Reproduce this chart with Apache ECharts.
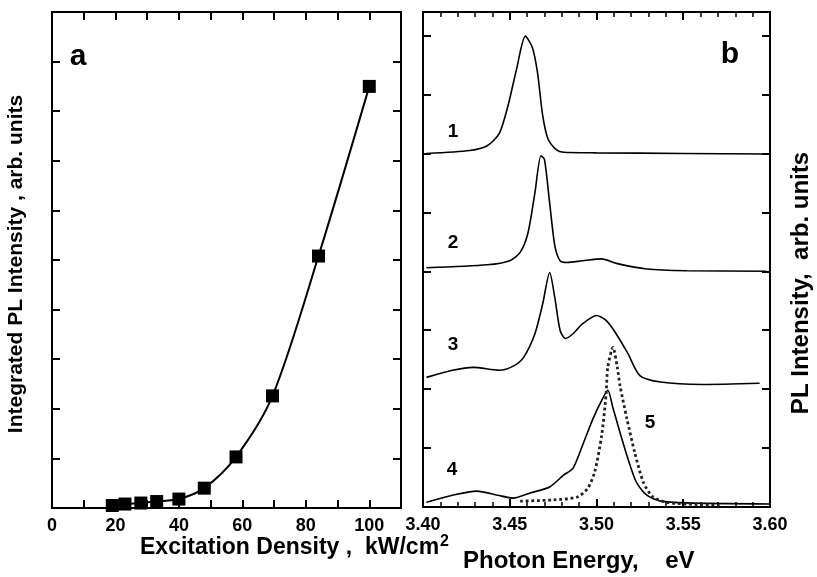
<!DOCTYPE html>
<html>
<head>
<meta charset="UTF-8">
<title>PL</title>
<script src="https://cdn.jsdelivr.net/npm/echarts@6/dist/echarts.min.js"></script>
<style>
  body { margin: 0; background: #fff; }
  #chart { width: 817px; height: 577px; }
</style>
</head>
<body>
<div id="chart"></div>
<script>
// panel a: integrated PL vs excitation density
var densX = [19, 23, 28, 33, 40, 48, 58, 69.5, 84, 100];
var densY = [0.05, 0.08, 0.1, 0.13, 0.18, 0.4, 1.03, 2.26, 5.08, 8.5];

// panel b: spectra (photon energy, eV / shifted intensity)
var e1 = [3.402, 3.427, 3.437, 3.444, 3.449, 3.454, 3.459, 3.463, 3.466, 3.469, 3.472, 3.477, 3.481, 3.50, 3.55, 3.60];
var p1 = [6.0, 6.05, 6.13, 6.34, 6.81, 7.44, 7.99, 7.8, 7.37, 6.64, 6.25, 6.06, 6.02, 6.01, 6.0, 5.99];

var e2 = [3.402, 3.437, 3.450, 3.456, 3.4605, 3.4645, 3.468, 3.470, 3.473, 3.476, 3.479, 3.483, 3.492, 3.503, 3.512, 3.529, 3.552, 3.598];
var p2 = [4.06, 4.11, 4.18, 4.32, 4.65, 5.33, 5.96, 5.9, 5.16, 4.43, 4.18, 4.15, 4.18, 4.21, 4.13, 4.04, 4.01, 4.0];

var e3 = [3.402, 3.417, 3.429, 3.444, 3.452, 3.458, 3.4645, 3.469, 3.473, 3.476, 3.479, 3.482, 3.4865, 3.492, 3.500, 3.505, 3.510, 3.518, 3.525, 3.537, 3.561, 3.594];
var p3 = [2.2, 2.32, 2.37, 2.32, 2.39, 2.54, 2.94, 3.45, 3.98, 3.55, 3.0, 2.86, 2.94, 3.11, 3.25, 3.18, 3.0, 2.61, 2.23, 2.12, 2.08, 2.1];

var e4 = [3.402, 3.417, 3.431, 3.443, 3.452, 3.462, 3.473, 3.481, 3.4865, 3.492, 3.498, 3.503, 3.5065, 3.5095, 3.5135, 3.518, 3.523, 3.529, 3.537, 3.552, 3.60];
var p4 = [0.08, 0.2, 0.27, 0.2, 0.15, 0.24, 0.34, 0.54, 0.66, 1.05, 1.5, 1.81, 1.98, 1.68, 1.27, 0.83, 0.42, 0.2, 0.1, 0.07, 0.05];

var e5 = [3.456, 3.475, 3.489, 3.495, 3.499, 3.503, 3.5055, 3.5065, 3.5095, 3.512, 3.5135, 3.5175, 3.522, 3.527, 3.5325, 3.5405, 3.552, 3.571];
var p5 = [0.1, 0.12, 0.17, 0.32, 0.6, 1.22, 1.9, 2.37, 2.71, 2.37, 2.07, 1.5, 0.93, 0.42, 0.17, 0.08, 0.05, 0.03];

function pairs(xs, ys) {
  return xs.map(function (x, i) { return [x, ys[i]]; });
}

var FONT = 'Liberation Sans';
var line = { color: '#000', width: 2 };

function xAx(grid, pos, min, max, step, fmt, minor) {
  return {
    gridIndex: grid, type: 'value', position: pos, min: min, max: max, interval: step,
    axisLine: { onZero: false, lineStyle: line },
    axisTick: { inside: true, length: 8, lineStyle: line },
    minorTick: { show: !!minor, splitNumber: minor || 5, length: 5, lineStyle: { color: '#000', width: 1.5 } },
    axisLabel: fmt ? { formatter: fmt, color: '#000', fontSize: 18, fontWeight: 'bold', fontFamily: FONT, margin: 9 } : { show: false },
    splitLine: { show: false }
  };
}
function yAx(grid, pos, max) {
  return {
    gridIndex: grid, type: 'value', position: pos, min: 0, max: max, interval: 1,
    axisLine: { onZero: false, lineStyle: line },
    axisTick: { inside: true, length: 8, lineStyle: line },
    axisLabel: { show: false },
    splitLine: { show: false }
  };
}
function txt(x, y, s, size, rot) {
  return {
    type: 'text', x: x, y: y, rotation: rot || 0,
    style: { text: s, font: 'bold ' + size + 'px "Liberation Sans"', fill: '#000', textAlign: 'center', textVerticalAlign: 'middle' }
  };
}

var chart = echarts.init(document.getElementById('chart'));

var option = {
  animation: false,
  grid: [
    { left: 52, top: 12, width: 349, height: 496 },
    { left: 423, top: 12, width: 347, height: 495 }
  ],
  xAxis: [
    xAx(0, 'bottom', 0, 110, 10, function (v) { return (v % 20 === 0 && v <= 100) ? v : ''; }),
    xAx(0, 'top', 0, 110, 10, null),
    xAx(1, 'bottom', 3.4, 3.6, 0.05, function (v) { return v.toFixed(2); }, 5),
    xAx(1, 'top', 3.4, 3.6, 0.05, null, 5)
  ],
  yAxis: [
    yAx(0, 'left', 10),
    yAx(0, 'right', 10),
    yAx(1, 'left', 8.4),
    yAx(1, 'right', 8.4)
  ],
  series: [
    {
      type: 'line', xAxisIndex: 0, yAxisIndex: 0, data: pairs(densX, densY),
      smooth: 0.3, symbol: 'rect', symbolSize: 13,
      lineStyle: { color: '#000', width: 2 }, itemStyle: { color: '#000' }
    },
    { type: 'line', xAxisIndex: 2, yAxisIndex: 2, data: pairs(e1, p1), smooth: 0.25, showSymbol: false, lineStyle: { color: '#000', width: 1.6 } },
    { type: 'line', xAxisIndex: 2, yAxisIndex: 2, data: pairs(e2, p2), smooth: 0.25, showSymbol: false, lineStyle: { color: '#000', width: 1.6 } },
    { type: 'line', xAxisIndex: 2, yAxisIndex: 2, data: pairs(e3, p3), smooth: 0.25, showSymbol: false, lineStyle: { color: '#000', width: 1.6 } },
    { type: 'line', xAxisIndex: 2, yAxisIndex: 2, data: pairs(e4, p4), smooth: 0.25, showSymbol: false, lineStyle: { color: '#000', width: 1.6 } },
    { type: 'line', xAxisIndex: 2, yAxisIndex: 2, data: pairs(e5, p5), smooth: 0.25, showSymbol: false, lineStyle: { color: '#222', width: 2.8, type: 'dotted' } }
  ],
  graphic: [
    txt(16, 264, 'Integrated PL Intensity , arb. units', 21, Math.PI / 2),
    txt(801, 283, 'PL Intensity,  arb. units', 24, Math.PI / 2),
    { type: 'text', x: 140, y: 548,
      style: {
        text: '{a|Excitation Density ,  kW/cm}{s|2}', fill: '#000', textAlign: 'left', textVerticalAlign: 'middle',
        rich: {
          a: { font: 'bold 23px "Liberation Sans"', fill: '#000' },
          s: { font: 'bold 16px "Liberation Sans"', fill: '#000', padding: [0, 0, 12, 1] }
        }
      } },
    { type: 'text', x: 463, y: 561,
      style: { text: 'Photon Energy,    eV', font: 'bold 24px "Liberation Sans"', fill: '#000', textAlign: 'left', textVerticalAlign: 'middle' } },
    txt(78, 57, 'a', 30),
    txt(730, 55, 'b', 30),
    txt(453, 132, '1', 19),
    txt(453, 243, '2', 19),
    txt(453, 345, '3', 19),
    txt(452, 470, '4', 19),
    txt(650, 423, '5', 19)
  ]
};

chart.setOption(option);
</script>
</body>
</html>
